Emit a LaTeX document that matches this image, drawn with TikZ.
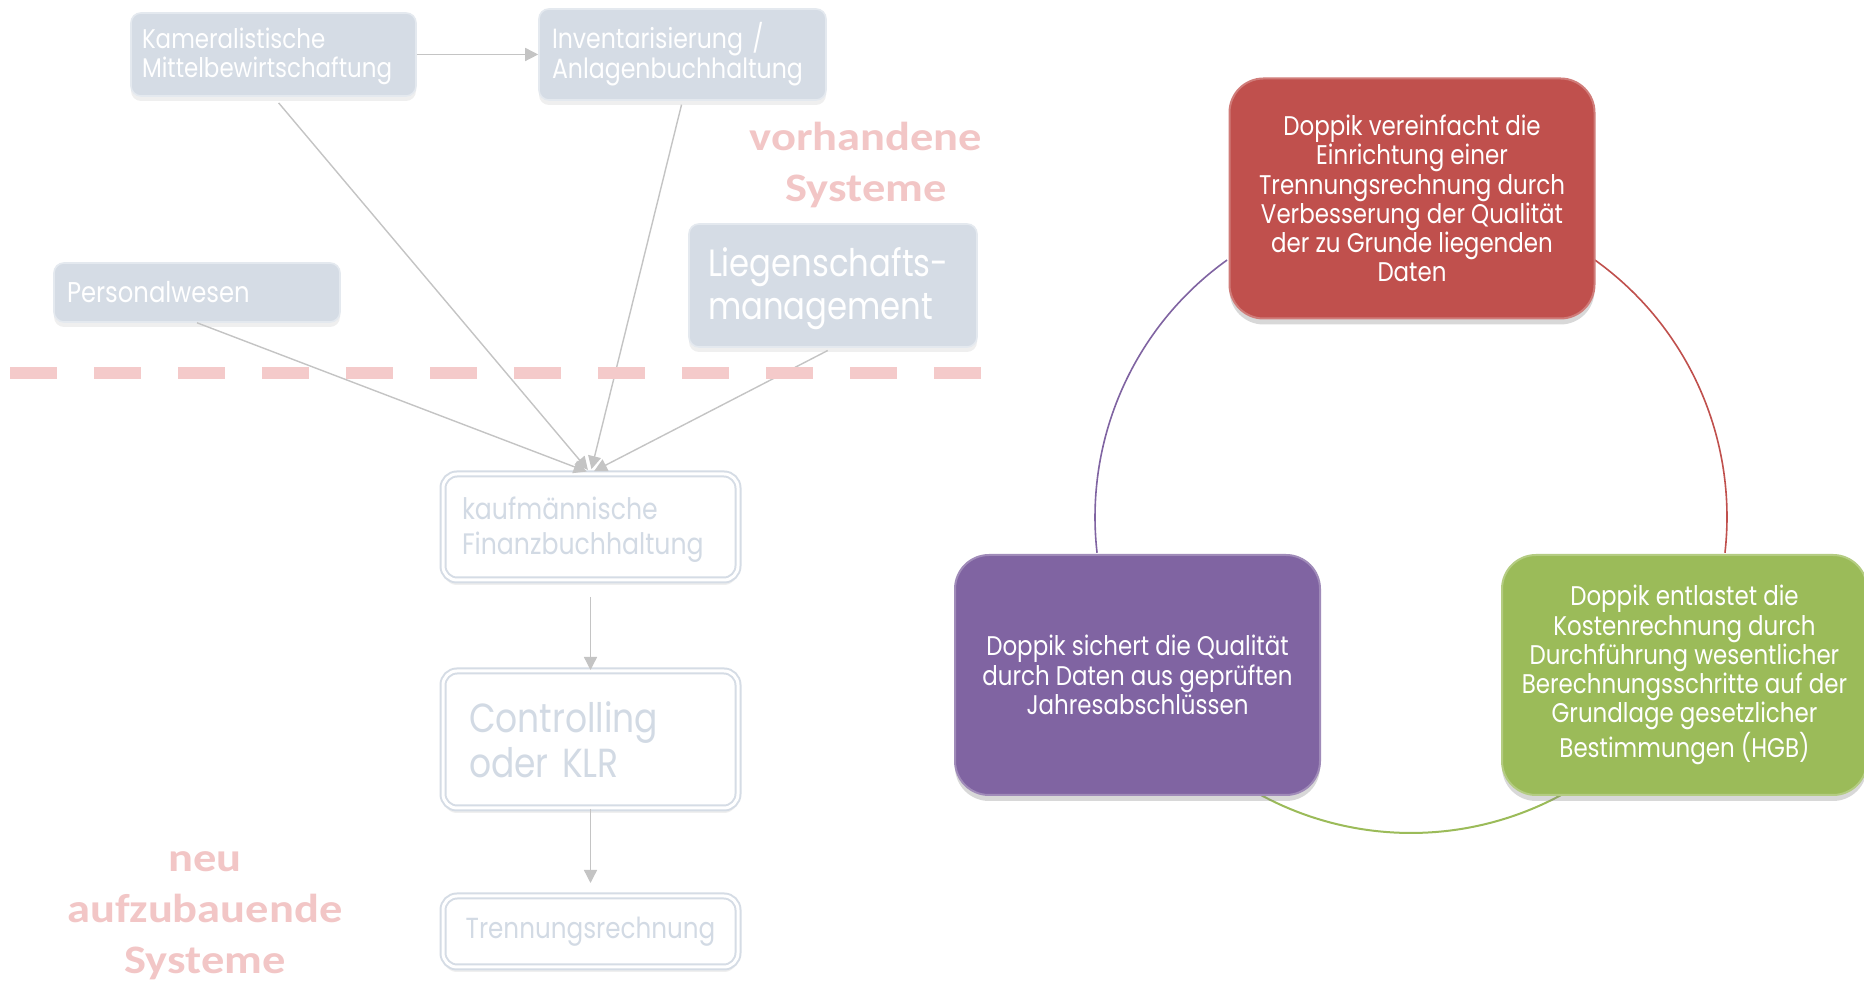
\documentclass[tikz,border=0pt]{standalone}
\usepackage{fontspec}
\setmainfont{Poppins}[FakeStretch=0.85]
\newfontfamily\pinkfont{Carlito}[FakeStretch=1.15]
\usetikzlibrary{arrows.meta,shadows}
\definecolor{lbox}{HTML}{D5DCE5}
\definecolor{lboxedge}{HTML}{E4E9EF}
\definecolor{ltext}{HTML}{D2DAE4}
\definecolor{pinkt}{HTML}{F2C6C6}
\definecolor{pinkd}{HTML}{F4CACA}
\definecolor{conn}{HTML}{C4C4C4}
\definecolor{redb}{HTML}{C0504D}
\definecolor{purb}{HTML}{8064A2}
\definecolor{grnb}{HTML}{9BBB59}
\begin{document}
\begin{tikzpicture}[x=0.5pt,y=0.5pt,
  lightbox/.style={fill=lbox, draw=lboxedge, line width=0.8pt, rounded corners=5pt,
    text=white, align=left, inner xsep=0pt, inner ysep=0pt,
    drop shadow={opacity=0.12, shadow xshift=0pt, shadow yshift=-2.5pt}},
  dblbox/.style={fill=white, draw=lbox, double=white, double distance=1.5pt, line width=1pt,
    rounded corners=7pt, text=ltext, align=left, inner xsep=0pt, inner ysep=0pt,
    drop shadow={opacity=0.12, shadow xshift=0pt, shadow yshift=-2.5pt}},
  cbox/.style={rounded corners=17pt, text=white, align=center, inner sep=0pt,
    minimum width=182.5pt, minimum height=120pt, line width=1pt,
    font=\fontsize{13.5}{14.6}\selectfont,
    drop shadow={opacity=0.3, shadow xshift=0pt, shadow yshift=-3pt}},
  pinklabel/.style={text=pinkt, align=center, font=\pinkfont\bfseries\fontsize{20.2}{25.5}\selectfont},
  conn/.style={draw=conn, line width=0.7pt, -{Triangle[length=6.5pt,width=6.5pt]}},
  cyc/.style={line width=0.8pt}]
\useasboundingbox (0,0) rectangle (1864,984);
\fill[white] (0,0) rectangle (1864,984);

% left: light boxes
\node[lightbox, minimum width=142.5pt, minimum height=41.5pt, text width=131.5pt,
  font=\fontsize{13.5}{14.5}\selectfont] (kam) at (273.5,929.5)
  {\rule{0pt}{12.5pt}Kameralistische\\Mittelbewirtschaftung};
\node[lightbox, minimum width=143.5pt, minimum height=45.5pt, text width=130.5pt,
  font=\fontsize{13.9}{15}\selectfont] (inv) at (682.5,929.5)
  {\rule{0pt}{12pt}Inventarisierung /\\Anlagenbuchhaltung};
\node[lightbox, minimum width=143pt, minimum height=29.5pt, text width=130pt,
  font=\fontsize{14.3}{16}\selectfont] (pers) at (197,691.5) {Personalwesen};
\node[lightbox, minimum width=144pt, minimum height=61.5pt, text width=125pt,
  font=\fontsize{19}{21.5}\selectfont] (lieg) at (833,698.5)
  {\rule{0pt}{18pt}Liegenschafts-\\management};

\node[dblbox, minimum width=147.5pt, minimum height=53pt, text width=128.5pt,
  font=\fontsize{14.8}{17.5}\selectfont] (fin) at (590.5,457)
  {\rule{0pt}{14pt}kaufmännische\\Finanzbuchhaltung};
\node[dblbox, minimum width=147.5pt, minimum height=68.5pt, text width=121.5pt,
  font=\fontsize{20.3}{22.5}\selectfont] (ctrl) at (590.5,244.5)
  {Controlling\\oder KLR};
\node[dblbox, minimum width=147.5pt, minimum height=35.5pt, text width=137.5pt, align=center,
  font=\fontsize{14.5}{16}\selectfont] (trenn) at (590.5,52.5)
  {Trennungsrechnung};

% connectors
\draw[conn] (kam.east) -- (inv.west);
\draw[conn, shorten <=4pt, shorten >=2pt] (kam.south) -- (fin.north);
\draw[conn, shorten <=2pt, shorten >=2pt] (inv.south) -- (fin.north);
\draw[conn, shorten >=2pt] (pers.south) -- (fin.north);
\draw[conn, shorten <=3pt, shorten >=2pt] (lieg.south) -- (fin.north);
\draw[conn, shorten <=8pt] (fin.south) -- (ctrl.north);
\draw[conn, shorten >=6pt] (ctrl.south) -- (trenn.north);

% separator
\draw[pinkd, line width=6pt, dash pattern=on 23.5pt off 18.5pt] (10,611) -- (981,611);

\node[pinklabel] (vorh) at (866,819) {vorhandene\\Systeme};
\node[pinklabel] (neu) at (205,68) {neu\\aufzubauende\\Systeme};

% right: cycle
\coordinate (cc) at (1411,467);
\draw[cyc, purb] (cc) ++(125.6:316) arc[start angle=125.6, end angle=186.5, radius=316];
\draw[cyc, redb] (cc) ++(54.4:316) arc[start angle=54.4, end angle=-6.5, radius=316];
\draw[cyc, grnb, line width=1pt] (cc) ++(241.6:316) arc[start angle=241.6, end angle=298.4, radius=316];

\node[cbox, fill=redb, draw=redb!75!white] (red) at (1412,785.5)
  {Doppik vereinfacht die\\Einrichtung einer\\Trennungsrechnung durch\\Verbesserung der Qualität\\der zu Grunde liegenden\\Daten};
\node[cbox, fill=purb, draw=purb!75!white] (pur) at (1137.5,309)
  {Doppik sichert die Qualität\\durch Daten aus geprüften\\Jahresabschlüssen};
\node[cbox, fill=grnb, draw=grnb!75!white] (grn) at (1684.5,309)
  {Doppik entlastet die\\Kostenrechnung durch\\Durchführung wesentlicher\\Berechnungsschritte auf der\\Grundlage gesetzlicher\\Bestimmungen (HGB)};
\end{tikzpicture}
\end{document}
